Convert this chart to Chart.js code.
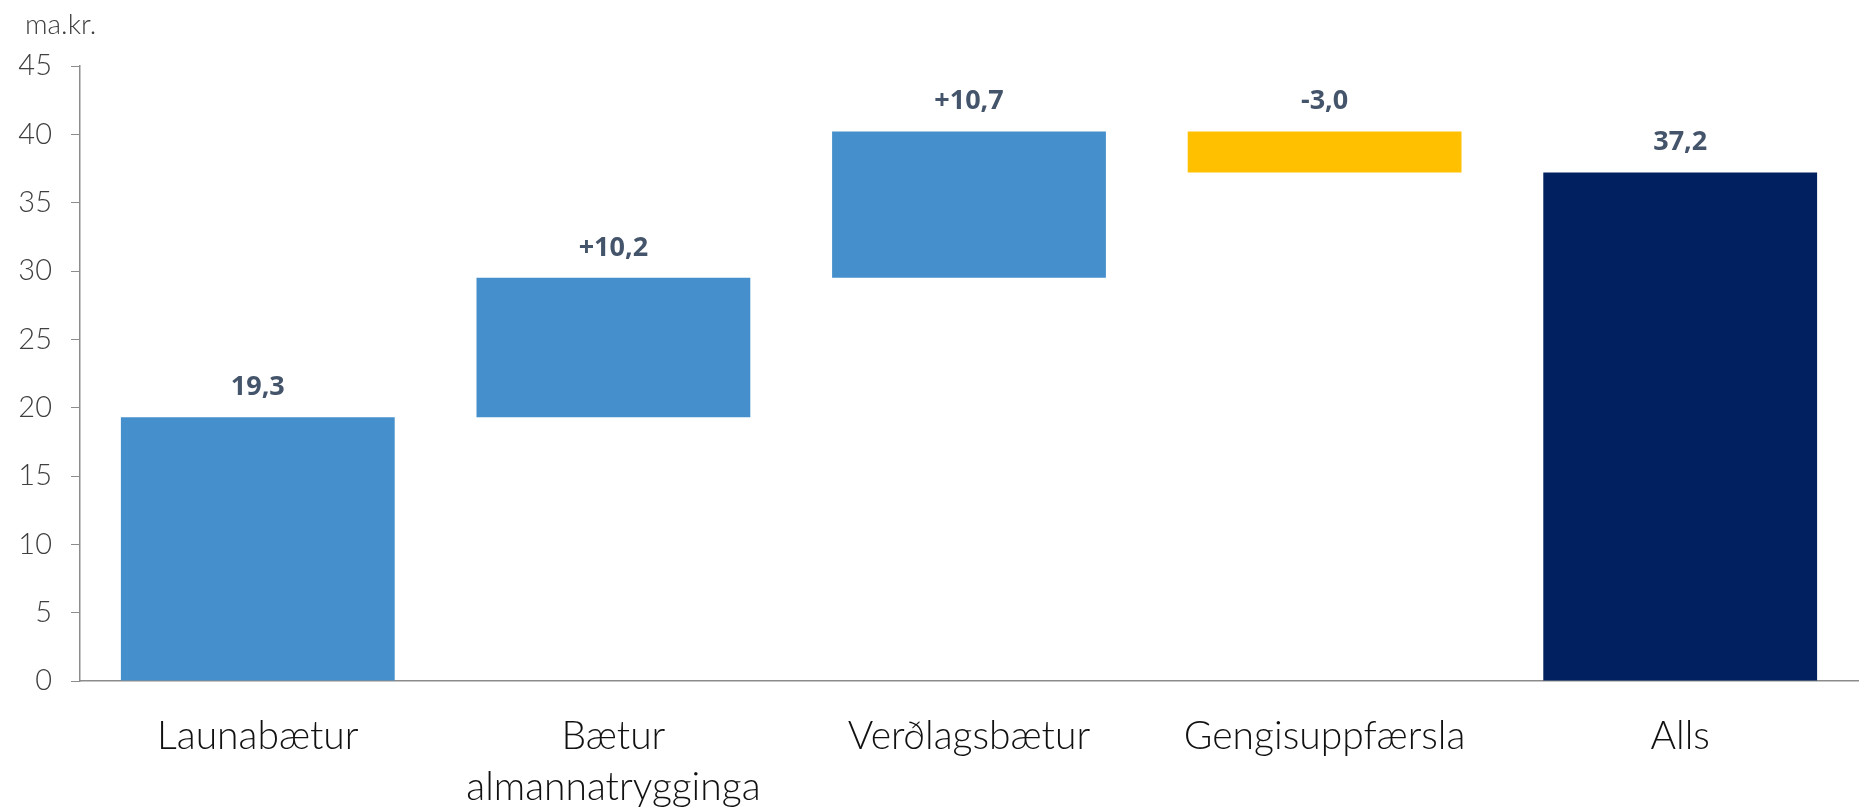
<!DOCTYPE html>
<html>
<head>
<meta charset="utf-8">
<style>
  html, body { margin: 0; padding: 0; background: #fff; }
  #wrap { width: 1865px; height: 810px; }
</style>
<script src="https://cdn.jsdelivr.net/npm/chart.js@4/dist/chart.umd.min.js"></script>
</head>
<body>
<div id="wrap"><canvas id="waterfall" width="1865" height="810"></canvas></div>
<script>
const categories = ["Launabætur", ["Bætur", "almannatrygginga"], "Verðlagsbætur", "Gengisuppfærsla", "Alls"];
const changes = [19.3, 10.2, 10.7, -3.0];   // steps of the waterfall
const total = 37.2;
const valueLabels = ["19,3", "+10,2", "+10,7", "-3,0", "37,2"];
const barColors = ["#4590cc", "#4590cc", "#4590cc", "#ffc000", "#002060"];
const yTicksMax = 45;
const yTicksStep = 5;

// floating bars [start, end] built from the step values
let running = 0;
const floating = changes.map(function (c) {
  const start = running;
  running = Math.round((running + c) * 10) / 10;
  return [start, running];
});
floating.push([0, total]);

const labelPlugin = {
  id: 'valueLabels',
  afterDatasetsDraw(chart) {
    const ctx = chart.ctx;
    const meta = chart.getDatasetMeta(0);
    ctx.save();
    ctx.font = "bold 27px 'Open Sans'";
    ctx.fillStyle = "#44546a";
    ctx.textAlign = "center";
    ctx.textBaseline = "middle";
    meta.data.forEach(function (bar, i) {
      const top = Math.min(bar.y, bar.base);
      ctx.fillText(valueLabels[i], bar.x, top - 30);
    });
    // unit label
    ctx.font = "300 28px Lato";
    ctx.fillStyle = "#404040";
    ctx.textAlign = "left";
    ctx.fillText("ma.kr.", 25, 25);
    ctx.restore();
  }
};

const config = {
  type: 'bar',
  data: {
    labels: categories,
    datasets: [{
      data: floating,
      backgroundColor: barColors,
      borderWidth: 0,
      categoryPercentage: 1.0,
      barPercentage: 0.77
    }]
  },
  options: {
    responsive: false,
    animation: false,
    layout: { padding: { top: 66, right: 7, left: 0, bottom: 0 } },
    plugins: {
      legend: { display: false },
      tooltip: { enabled: false }
    },
    scales: {
      x: {
        grid: { display: false, drawTicks: false },
        border: { display: true, color: "#8c8c8c", width: 1.5 },
        ticks: {
          color: "#111111",
          font: { family: "Lato", size: 39, weight: 300, lineHeight: 1.3 },
          padding: 30,
          maxRotation: 0,
          autoSkip: false
        },
        afterFit(scale) { scale.height = 129; }
      },
      y: {
        min: 0,
        max: yTicksMax,
        grid: { drawOnChartArea: false, drawTicks: true, tickLength: 9, color: "#8c8c8c" },
        border: { display: true, color: "#8c8c8c", width: 1.5 },
        ticks: {
          stepSize: yTicksStep,
          color: "#404040",
          font: { family: "Lato", size: 29, weight: 300 },
          padding: 19
        },
        afterFit(scale) { scale.width = 80; }
      }
    }
  },
  plugins: [labelPlugin]
};

const waterfallChart = new Chart(document.getElementById('waterfall'), config);
</script>
</body>
</html>
